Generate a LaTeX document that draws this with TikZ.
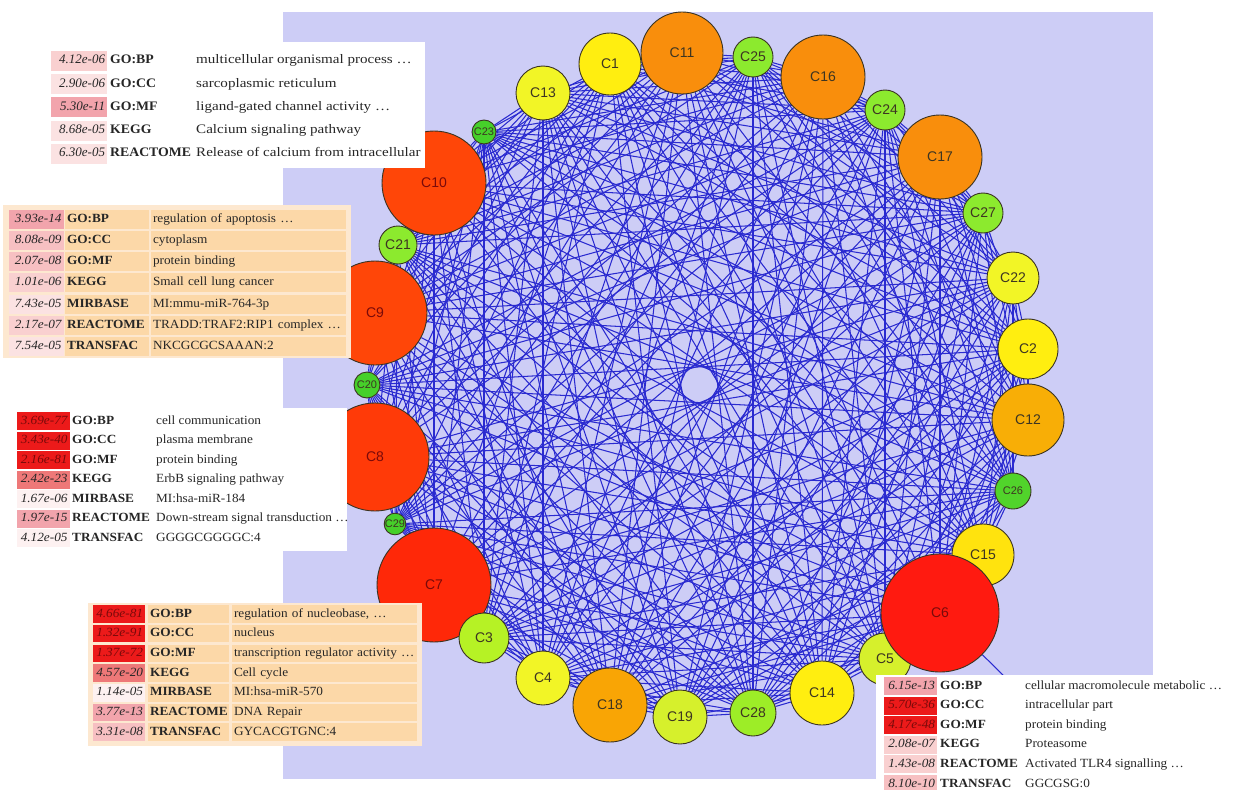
\documentclass[tikz,border=0pt]{standalone}
\usepackage{fontspec}
\setmainfont{Liberation Serif}
\newfontfamily\nodefont{Liberation Sans}
\newfontfamily\serifW[FakeStretch=1.06]{Liberation Serif}
\newfontfamily\serifWW[FakeStretch=1.16]{Liberation Serif}

\pgfdeclarelayer{canvas}
\pgfdeclarelayer{edges}
\pgfsetlayers{canvas,edges,main}

% palette
\definecolor{canvasbg}{HTML}{CDCDF6}
\definecolor{edgeblue}{HTML}{2A2AD0}
\definecolor{nodeline}{HTML}{3A3322}
\definecolor{nodetext}{HTML}{3D3522}
\definecolor{ink}{HTML}{262626}
\definecolor{hotink}{HTML}{7A0A0A}
\definecolor{peach}{HTML}{FCD8A8}
\definecolor{peachframe}{HTML}{FDE8D0}
% significance shades for p-value cells
\definecolor{pvO}{HTML}{FDF1F1}
\definecolor{pvA}{HTML}{FBE2E2}
\definecolor{pvB}{HTML}{F9D0D0}
\definecolor{pvC}{HTML}{F7C0C2}
\definecolor{pvD}{HTML}{F2A4AC}
\definecolor{pvE}{HTML}{EE7878}
\definecolor{pvF}{HTML}{EC1A1A}
% cluster colours
\definecolor{cRedA}{HTML}{FF4608}
\definecolor{cRedB}{HTML}{FF3A08}
\definecolor{cRedC}{HTML}{FF2808}
\definecolor{cRedD}{HTML}{FF1A10}
\definecolor{cOrange}{HTML}{F98E0C}
\definecolor{cAmber}{HTML}{F8AE06}
\definecolor{cYellow}{HTML}{FFEE10}
\definecolor{cYellowB}{HTML}{F2F526}
\definecolor{cLimeY}{HTML}{D6F02C}
\definecolor{cLime}{HTML}{8CEA2E}
\definecolor{cGreen}{HTML}{46D02A}

\newcommand\fsA{\fontsize{13}{15}\selectfont}
\newcommand\fsB{\fontsize{12.5}{14}\selectfont}
\newcommand\fsN{\fontsize{14}{15}\selectfont}
\newcommand\fsS{\fontsize{11}{13}\selectfont}

\tikzset{
  cnode/.style={circle, draw=nodeline, line width=0.9pt, inner sep=0pt,
    text=nodetext, font=\nodefont\fsN},
  tinylabel/.style={font=\nodefont\fsS},
  link/.style={draw=edgeblue, line width=1.05pt},
  cell/.style={inner xsep=2pt, inner ysep=0pt, text height=8.5pt, text depth=2.5pt},
  pcell/.style={cell, align=right},
  tcell/.style={cell, align=left, fill=peach, text=ink},
  txt/.style={inner sep=0pt, text height=8.5pt, text depth=2.5pt, anchor=west, text=ink},
}

\begin{document}
\begin{tikzpicture}[x=1pt,y=-1pt]
\useasboundingbox (0,0) rectangle (1238,789);
\clip (0,0) rectangle (1238,789);

\begin{pgfonlayer}{canvas}
  \fill[white] (0,0) rectangle (1238,789);
  \fill[canvasbg] (283,12) rectangle (1153,779);
\end{pgfonlayer}

% clusters placed round the ring
\node[cnode, fill=cOrange,  minimum size=82pt]  (C11) at (682,53)   {C11};
\node[cnode, fill=cLime,    minimum size=40pt]  (C25) at (753,57)   {C25};
\node[cnode, fill=cOrange,  minimum size=84pt]  (C16) at (823,77)   {C16};
\node[cnode, fill=cLime,    minimum size=40pt]  (C24) at (885,110)  {C24};
\node[cnode, fill=cOrange,  minimum size=84pt]  (C17) at (940,157)  {C17};
\node[cnode, fill=cLime,    minimum size=40pt]  (C27) at (983,213)  {C27};
\node[cnode, fill=cYellowB, minimum size=52pt]  (C22) at (1013,278) {C22};
\node[cnode, fill=cYellow,  minimum size=60pt]  (C2)  at (1028,349) {C2};
\node[cnode, fill=cAmber,   minimum size=72pt]  (C12) at (1028,420) {C12};
\node[cnode, fill=cGreen!85!cLime, tinylabel, minimum size=36pt] (C26) at (1013,491) {C26};
\node[cnode, fill=cYellow!90!orange, minimum size=62pt] (C15) at (983,555) {C15};
\node[cnode, fill=cLimeY,   minimum size=52pt]  (C5)  at (885,659)  {C5};
\node[cnode, fill=cRedD,    minimum size=118pt, text=hotink] (C6) at (940,613) {C6};
\node[cnode, fill=cYellow,  minimum size=64pt]  (C14) at (822,693)  {C14};
\node[cnode, fill=cLime!85!yellow, minimum size=46pt] (C28) at (753,713) {C28};
\node[cnode, fill=cLimeY,   minimum size=54pt]  (C19) at (680,717)  {C19};
\node[cnode, fill=cAmber!80!orange, minimum size=74pt] (C18) at (610,705) {C18};
\node[cnode, fill=cYellowB, minimum size=54pt]  (C4)  at (543,678)  {C4};
\node[cnode, fill=cRedC,    minimum size=114pt, text=hotink] (C7) at (434,585) {C7};
\node[cnode, fill=cLimeY!85!green, minimum size=50pt] (C3) at (484,638) {C3};
\node[cnode, fill=cGreen,   tinylabel, minimum size=20pt] (C29) at (395,524) {C29};
\node[cnode, fill=cRedB,    minimum size=108pt, text=hotink] (C8) at (375,457) {C8};
\node[cnode, fill=cGreen,   tinylabel, minimum size=26pt] (C20) at (367,385) {C20};
\node[cnode, fill=cRedA,    minimum size=104pt, text=hotink] (C9) at (375,313) {C9};
\node[cnode, fill=cLime,    minimum size=38pt]  (C21) at (398,245)  {C21};
\node[cnode, fill=cRedA,    minimum size=104pt, text=hotink] (C10) at (434,183) {C10};
\node[cnode, fill=cGreen,   tinylabel, minimum size=24pt] (C23) at (484,132) {C23};
\node[cnode, fill=cYellowB, minimum size=54pt]  (C13) at (543,93)   {C13};
\node[cnode, fill=cYellow,  minimum size=62pt]  (C1)  at (610,64)   {C1};

% links between clusters (a fixed scattered subset of all pairs)
\coordinate (C6tail) at (1004,676);
\begin{pgfonlayer}{edges}
  \foreach \a [count=\i] in {C11,C25,C16,C24,C17,C27,C22,C2,C12,C26,C15,C6,C5,C14,C28,C19,C18,C4,C3,C7,C29,C8,C20,C9,C21,C10,C23,C13,C1}{
    \foreach \b [count=\j] in {C11,C25,C16,C24,C17,C27,C22,C2,C12,C26,C15,C6,C5,C14,C28,C19,C18,C4,C3,C7,C29,C8,C20,C9,C21,C10,C23,C13,C1}{
      \ifnum\j>\i
        \pgfmathtruncatemacro\keep{mod(3*\i*\i+5*\j*\j+7*\i*\j,11)}
        \ifnum\keep<6 \draw[link] (\a) -- (\b); \fi
      \fi
    }
  }
  \draw[link] (C6) -- (C6tail);
\end{pgfonlayer}

% ---- enrichment table next to C10 (plain white)
\fill[white] (43,42) rectangle (425,168);
\foreach \vP/\fP/\tP/\cA/\dE [count=\r] in {
  4.12e-06/pvB/ink/GO:BP/{multicellular organismal process \ldots},
  2.90e-06/pvA/ink/GO:CC/{sarcoplasmic reticulum},
  5.30e-11/pvD/ink/GO:MF/{ligand-gated channel activity \ldots},
  8.68e-05/pvA/ink/KEGG/{Calcium signaling pathway},
  6.30e-05/pvA/ink/REACTOME/{Release of calcium from intracellular}}{
  \pgfmathsetmacro\yy{61+23.2*(\r-1)}
  \node[pcell, text width=52pt, minimum height=20pt, fill=\fP, text=\tP, font=\fsA\itshape] (ta-p\r) at (79,\yy) {\vP};
  \node[txt, font=\serifW\fsA\bfseries] (ta-c\r) at (110,\yy) {\cA};
  \node[txt, font=\serifWW\fsA] (ta-d\r) at (196,\yy) {\dE};
}

% ---- enrichment table next to C9 (peach grid)
\fill[peachframe] (3,205) rectangle (351,358);
\foreach \vP/\fP/\tP/\cA/\dE [count=\r] in {
  3.93e-14/pvD/ink/GO:BP/{regulation of apoptosis \ldots},
  8.08e-09/pvC/ink/GO:CC/{cytoplasm},
  2.07e-08/pvC/ink/GO:MF/{protein binding},
  1.01e-06/pvB/ink/KEGG/{Small cell lung cancer},
  7.43e-05/pvA/ink/MIRBASE/{MI:mmu-miR-764-3p},
  2.17e-07/pvB/ink/REACTOME/{TRADD:TRAF2:RIP1 complex \ldots},
  7.54e-05/pvA/ink/TRANSFAC/{NKCGCGCSAAAN:2}}{
  \pgfmathsetmacro\yy{219+21.3*(\r-1)}
  \node[pcell, text width=51pt, minimum height=19pt, fill=\fP, text=\tP, font=\serifW\fsB\itshape] (tb-p\r) at (36,\yy) {\vP};
  \node[tcell, text width=80pt, minimum height=19pt, font=\serifW\fsB\bfseries] (tb-c\r) at (107,\yy) {\cA};
  \node[tcell, text width=191pt, minimum height=19pt, font=\serifW\fsB] (tb-d\r) at (248.5,\yy) {\mbox{\dE}};
}

% ---- enrichment table next to C8 (plain white)
\fill[white] (12,408) rectangle (347,551);
\foreach \vP/\fP/\tP/\cA/\dE [count=\r] in {
  3.69e-77/pvF/hotink/GO:BP/{cell communication},
  3.43e-40/pvF/hotink/GO:CC/{plasma membrane},
  2.16e-81/pvF/hotink/GO:MF/{protein binding},
  2.42e-23/pvE/ink/KEGG/{ErbB signaling pathway},
  1.67e-06/pvO/ink/MIRBASE/{MI:hsa-miR-184},
  1.97e-15/pvD/ink/REACTOME/{Down-stream signal transduction \ldots},
  4.12e-05/pvO/ink/TRANSFAC/{GGGGCGGGGC:4}}{
  \pgfmathsetmacro\yy{421+19.5*(\r-1)}
  \node[pcell, text width=49pt, minimum height=18pt, fill=\fP, text=\tP, font=\serifW\fsB\itshape] (tc-p\r) at (43,\yy) {\vP};
  \node[txt, font=\serifW\fsB\bfseries] (tc-c\r) at (72,\yy) {\cA};
  \node[txt, font=\serifW\fsB] (tc-d\r) at (156,\yy) {\dE};
}

% ---- enrichment table next to C7 (peach grid)
\fill[peachframe] (88,603) rectangle (422,746);
\foreach \vP/\fP/\tP/\cA/\dE [count=\r] in {
  4.66e-81/pvF/hotink/GO:BP/{regulation of nucleobase, \ldots},
  1.32e-91/pvF/hotink/GO:CC/{nucleus},
  1.37e-72/pvF/hotink/GO:MF/{transcription regulator activity \ldots},
  4.57e-20/pvE/ink/KEGG/{Cell cycle},
  1.14e-05/pvO/ink/MIRBASE/{MI:hsa-miR-570},
  3.77e-13/pvD/ink/REACTOME/{DNA Repair},
  3.31e-08/pvC/ink/TRANSFAC/{GYCACGTGNC:4}}{
  \pgfmathsetmacro\yy{614+19.7*(\r-1)}
  \node[pcell, text width=48pt, minimum height=17.5pt, fill=\fP, text=\tP, font=\serifW\fsB\itshape] (td-p\r) at (119,\yy) {\vP};
  \node[tcell, text width=77pt, minimum height=17.5pt, font=\serifW\fsB\bfseries] (td-c\r) at (188.5,\yy) {\cA};
  \node[tcell, text width=181pt, minimum height=17.5pt, font=\serifW\fsB] (td-d\r) at (324.5,\yy) {\mbox{\dE}};
}

% ---- enrichment table next to C6 (plain white)
\fill[white] (876,675) rectangle (1240,792);
\foreach \vP/\fP/\tP/\cA/\dE [count=\r] in {
  6.15e-13/pvD/ink/GO:BP/{cellular macromolecule metabolic \ldots},
  5.70e-36/pvF/hotink/GO:CC/{intracellular part},
  4.17e-48/pvF/hotink/GO:MF/{protein binding},
  2.08e-07/pvB/ink/KEGG/{Proteasome},
  1.43e-08/pvB/ink/REACTOME/{Activated TLR4 signalling \ldots},
  8.10e-10/pvC/ink/TRANSFAC/{GGCGSG:0}}{
  \pgfmathsetmacro\yy{686+19.6*(\r-1)}
  \node[pcell, text width=49pt, minimum height=18pt, fill=\fP, text=\tP, font=\serifW\fsB\itshape] (te-p\r) at (910.5,\yy) {\vP};
  \node[txt, font=\serifW\fsB\bfseries] (te-c\r) at (940,\yy) {\cA};
  \node[txt, font=\serifW\fsB] (te-d\r) at (1025,\yy) {\dE};
}
\end{tikzpicture}
\end{document}
